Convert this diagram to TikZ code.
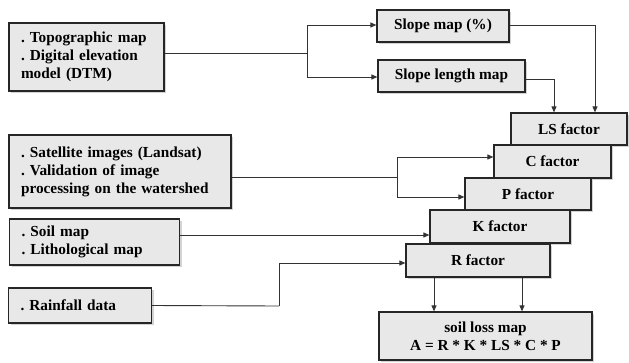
\documentclass[tikz,border=0pt]{standalone}
\usepackage{fontspec}
\setmainfont{Liberation Serif}
\usetikzlibrary{arrows.meta,shadows}
\begin{document}
\frenchspacing
\begin{tikzpicture}[x=1pt,y=-1pt,
  box/.style={draw=black!85,line width=1.2pt,fill=black!9,
    drop shadow={shadow xshift=2pt,shadow yshift=-2pt,opacity=0.35},
    font=\frenchspacing\fontsize{15.3}{18}\selectfont\bfseries,inner sep=0pt},
  lbox/.style={box,align=left,inner xsep=12pt},
  fbox/.style={box,align=center},
  conn/.style={draw=black!80,line width=0.9pt},
  arr/.style={conn,-{Triangle[length=6pt,width=5pt]}}]
\useasboundingbox (0,0) rectangle (629,362);
% left input boxes
\node[lbox,text width=131pt,minimum height=68pt] (topo) at (86.5,57)
  {. Topographic map\\. Digital elevation\\model (DTM)};
\node[lbox,text width=198pt,minimum height=73pt] (sat) at (120,171.5)
  {. Satellite images (Landsat)\\. Validation of image\\processing on the watershed};
\node[lbox,text width=146pt,minimum height=46pt] (soil) at (94.5,242)
  {. Soil map\\. Lithological map};
\node[lbox,text width=119pt,minimum height=35pt] (rain) at (80,305.5)
  {. Rainfall data};
% slope maps
\node[fbox,minimum width=132pt,minimum height=32pt] (slope) at (443,26) {Slope map (\%)};
\node[fbox,minimum width=147pt,minimum height=32pt] (slen) at (451.5,76) {Slope length map};
% factor stack
\node[fbox,minimum width=116pt,minimum height=32pt] (LS) at (569,129) {LS factor};
\node[fbox,minimum width=117pt,minimum height=33pt] (C) at (552.5,161.5) {C factor};
\node[fbox,minimum width=126pt,minimum height=32pt] (P) at (528,194) {P factor};
\node[fbox,minimum width=140pt,minimum height=33pt] (K) at (500,226.5) {K factor};
\node[fbox,minimum width=144pt,minimum height=33pt] (R) at (478,260.5) {R factor};
% result
\node[fbox,minimum width=213pt,minimum height=48pt] (loss) at (485.5,336)
  {soil loss map\\A = R * K * LS * C * P};
% junctions
\coordinate (j1) at (307,53);
\coordinate (j2) at (397,177);
\coordinate (j3) at (279,306);
% connectors
\draw[conn] ([yshift=4pt]topo.east) -- (j1);
\draw[arr] (j1) |- ([yshift=1pt]slope.west);
\draw[arr] (j1) |- ([yshift=-1pt]slen.west);
\draw[arr] ([yshift=1pt]slope.east) -| ([xshift=26pt]LS.north);
\draw[arr] ([yshift=-3pt]slen.east) -| ([xshift=-15pt]LS.north);
\draw[conn] ([yshift=-5.5pt]sat.east) -- (j2);
\draw[arr] (j2) |- ([yshift=4.5pt]C.west);
\draw[arr] (j2) |- ([yshift=-3pt]P.west);
\draw[arr] ([yshift=7pt]soil.east) -- ([yshift=-8.5pt]K.west);
\draw[conn] (rain.east) -- (j3);
\draw[arr] (j3) |- ([yshift=-2.5pt]R.west);
\draw[arr] ([xshift=-44pt]R.south) -- ([xshift=-44pt]R.south |- loss.north);
\draw[arr] ([xshift=44pt]R.south) -- ([xshift=44pt]R.south |- loss.north);
\end{tikzpicture}
\end{document}
